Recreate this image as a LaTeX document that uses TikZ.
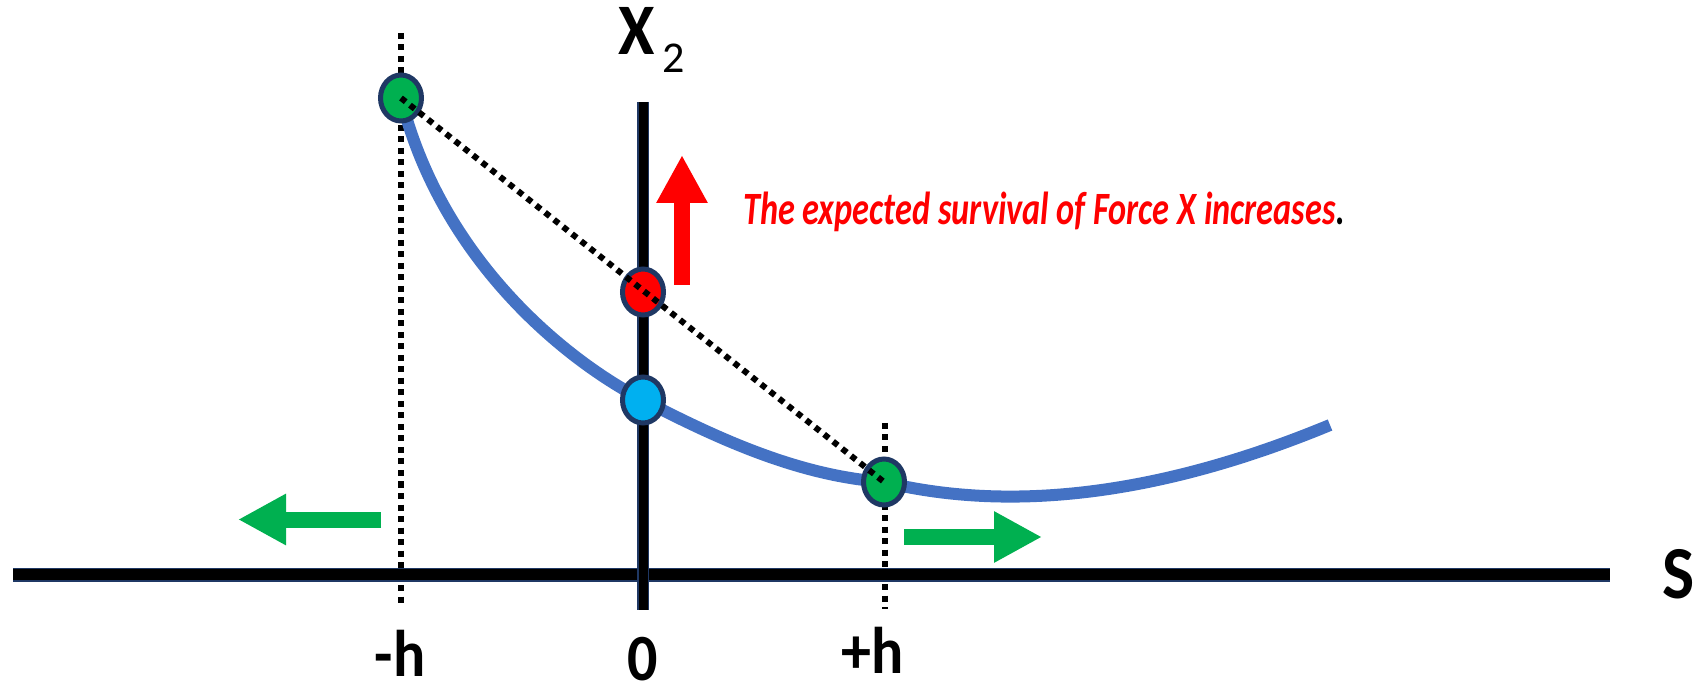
\documentclass[tikz,border=0pt]{standalone}
\usepackage{fontspec}
\setmainfont{Carlito}
\usetikzlibrary{arrows.meta,shapes.geometric}
\definecolor{navy}{HTML}{1F3864}
\definecolor{cgreen}{HTML}{00B050}
\definecolor{cblue}{HTML}{00B0F0}
\definecolor{cred}{HTML}{FF0000}
\definecolor{curveblue}{HTML}{4472C4}
\begin{document}
\begin{tikzpicture}[x=1pt,y=-1pt,
  dotnode/.style={ellipse, draw=navy, line width=5pt, minimum width=41pt, minimum height=46pt, inner sep=0pt},
  dotline/.style={line width=6pt, dash pattern=on 6pt off 5.5pt},
  fatarrow/.style={line width=16pt, -{Triangle[length=48pt,width=48pt]}},
  lbl/.style={font=\fontsize{60}{60}\selectfont\bfseries, inner sep=0pt, anchor=base}
]
\useasboundingbox (0,0) rectangle (1698,684);
% coordinates
\coordinate (hl) at (13,574.5);
\coordinate (hr) at (1610,574.5);
\coordinate (vt) at (643,102);
\coordinate (vb) at (643,610);
\coordinate (pg1) at (401,98);
\coordinate (pr) at (643,292);
\coordinate (pb) at (643,400);
\coordinate (pg2) at (884,482);
\coordinate (cend) at (1330,425);
\coordinate (mht) at (401,33);
\coordinate (mhb) at (401,603);
\coordinate (pht) at (884.5,423);
\coordinate (phb) at (884.5,609);
% axes
\draw[navy, line width=14pt] (hl) -- (hr);
\draw[black, line width=11pt] (hl) -- (hr);
\draw[navy, line width=12pt] (vt) -- (vb);
\draw[black, line width=9pt] (vt) -- (vb);
% dotted verticals
\draw[dotline] (mht) -- (mhb);
\draw[dotline] (pht) -- (phb);
% curve
\draw[curveblue, line width=12pt] (pg1) .. controls (440,255) and (560,357) .. (pb)
  .. controls (720,440) and (800,476) .. (pg2)
  .. controls (975,504) and (1120,512) .. (cend);
% circles
\node[dotnode, fill=cgreen] (g1) at (pg1) {};
\node[dotnode, fill=cred] (r) at (pr) {};
\node[dotnode, fill=cblue] (b) at (pb) {};
\node[dotnode, fill=cgreen] (g2) at (pg2) {};
% dotted chord
\draw[dotline] (g1.center) -- (g2.center);
% arrows
\coordinate (ra1) at (682,285); \coordinate (ra2) at (682,155);
\coordinate (la1) at (381,519.5); \coordinate (la2) at (238,519.5);
\coordinate (rr1) at (904,537); \coordinate (rr2) at (1042,537);
\draw[fatarrow, cred] (ra1) -- (ra2);
\draw[fatarrow, cgreen] (la1) -- (la2);
\draw[fatarrow, cgreen] (rr1) -- (rr2);
% labels
\node[lbl] (lmh) at (400,676) {\scalebox{1}[1.1]{-h}};
\node[lbl] (lz) at (643,680) {\scalebox{1}[1.1]{0}};
\node[lbl] (lph) at (873,673) {\scalebox{1}[1.1]{+h}};
\node[lbl, font=\fontsize{68}{68}\selectfont\bfseries] (ls) at (1679,598) {\scalebox{1}[1.1]{S}};
\node[lbl, font=\fontsize{66}{66}\selectfont\bfseries] (lx) at (637,55) {\scalebox{1}[1.1]{X}};
\node[lbl, font=\fontsize{44}{44}\selectfont] (l2) at (674,73) {2};
\node[inner sep=0pt, anchor=base west, font=\fontsize{34.3}{34.3}\selectfont\bfseries] (txt) at (743,225)
  {\scalebox{1}[1.35]{\textcolor{cred}{\itshape The expected survival of Force X increases}.}};
\end{tikzpicture}
\end{document}
